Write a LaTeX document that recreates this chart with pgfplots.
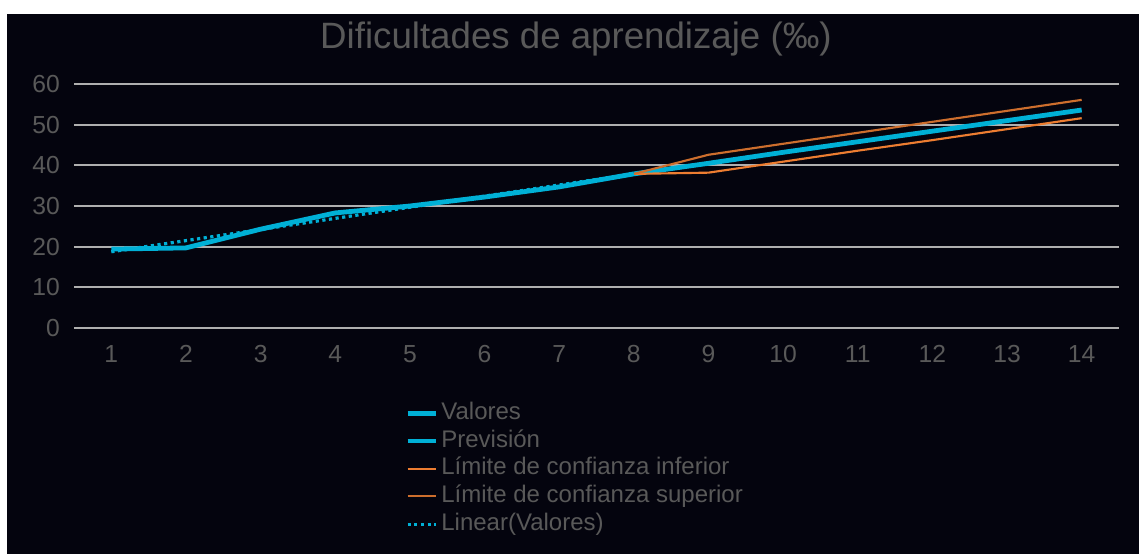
\documentclass[border=0pt]{standalone}
\usepackage{fontspec}
\setmainfont{Liberation Sans}
\usepackage{pgfplots}
\pgfplotsset{compat=1.18}
\definecolor{bg}{RGB}{4,4,14}
\definecolor{txt}{RGB}{89,89,89}
\definecolor{gridc}{RGB}{175,175,175}
\definecolor{cy}{RGB}{0,176,214}
\definecolor{orA}{RGB}{237,125,49}
\definecolor{orB}{RGB}{205,110,45}
\begin{document}
\begin{tikzpicture}
\fill[white] (0pt,0pt) rectangle (854.25pt,415.5pt);
\fill[bg] (5.25pt,0pt) rectangle (854.25pt,405pt);
\node[text=txt, font=\fontsize{27.5}{32}\selectfont, inner sep=0pt] at (432pt,386pt) {Dificultades de aprendizaje (‰)};
\begin{axis}[
  at={(55.5pt,169.5pt)}, anchor=south west,
  scale only axis, width=783.75pt, height=183pt,
  xmin=0.5, xmax=14.5, ymin=0, ymax=60,
  xtick={1,...,14}, ytick={0,10,...,60},
  ymajorgrids, grid style={gridc, line width=1.5pt},
  axis line style={draw=none}, major tick length=0pt,
  /pgf/number format/assume math mode=true,
  tick label style={text=txt, font=\fontsize{18.5}{22}\selectfont, inner sep=0pt},
  yticklabel style={anchor=east, xshift=-10.5pt},
  xticklabel style={anchor=north, yshift=-13pt},
  legend style={at={(0.3167,-0.303)}, anchor=north west, draw=none, fill=none,
    text=txt, font=\fontsize{18}{21}\selectfont, inner sep=0pt,
    nodes={inner sep=0pt, text height=13pt, text depth=3.5pt},
    row sep=4.3pt},
  legend cell align=left,
  legend image code/.code={\draw[#1] (0pt,0pt) -- (21.5pt,0pt);},
  /tikz/every odd column/.append style={column sep=2pt},
  clip=false,
]
\addplot[cy, line width=3.6pt, line join=round] coordinates {(1,19.4)(2,19.7)(3,24.3)(4,28.3)(5,30.0)(6,32.2)(7,34.7)(8,37.9)};
\addlegendentry{Valores}
\addplot[cy, line width=3.6pt, line join=round] coordinates {(8,37.9)(9,40.5)(10,43.2)(11,45.8)(12,48.4)(13,51.0)(14,53.6)};
\addlegendentry{Previsión}
\addplot[orA, line width=1.6pt, line join=round] coordinates {(8,37.9)(9,38.2)(10,40.9)(11,43.6)(12,46.2)(13,48.9)(14,51.6)};
\addlegendentry{Límite de confianza inferior}
\addplot[orB, line width=1.6pt, line join=round] coordinates {(8,37.9)(9,42.6)(10,45.3)(11,48.0)(12,50.7)(13,53.4)(14,56.1)};
\addlegendentry{Límite de confianza superior}
\addplot[cy, line width=2.4pt, dash pattern=on 2.4pt off 2.6pt] coordinates {(1,18.75)(8,37.9)};
\addlegendentry{Linear(Valores)}
\end{axis}
\end{tikzpicture}
\end{document}
